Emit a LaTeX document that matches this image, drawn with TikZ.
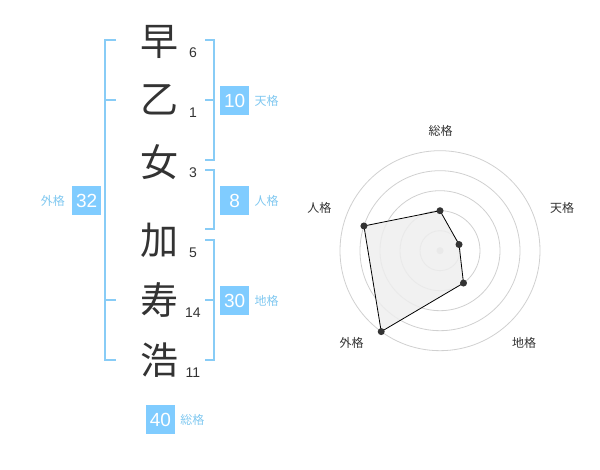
\documentclass[tikz,border=0pt]{standalone}
\usepackage{fontspec}
\setmainfont{Liberation Sans}
\newfontfamily\cjk{Noto Sans CJK JP}
\usepackage{xcolor}
\usepackage{tikz}
\usetikzlibrary{positioning,calc}
\definecolor{skyblue}{RGB}{128,204,255}
\definecolor{linkblue}{RGB}{136,204,246}
\definecolor{labelblue}{RGB}{128,200,240}
\definecolor{inkgray}{RGB}{51,51,51}
\definecolor{ringgray}{RGB}{208,208,208}
\definecolor{areagray}{RGB}{238,238,238}

\begin{document}
\begin{tikzpicture}[x=1pt,y=1pt,
  kanji/.style={font=\cjk\fontsize{38}{38}\selectfont,text=inkgray,inner sep=0pt},
  strokes/.style={font=\fontsize{14}{14}\selectfont,text=inkgray,inner sep=0pt},
  score/.style={fill=skyblue,minimum size=29pt,inner sep=0pt,font=\fontsize{19}{19}\selectfont,text=white},
  kaku/.style={font=\cjk\fontsize{12}{12}\selectfont,text=labelblue,inner sep=0pt},
  brk/.style={linkblue,line width=2pt},
  ring/.style={ringgray,line width=0.8pt},
  axis/.style={font=\cjk\fontsize{12}{12}\selectfont,text=inkgray,inner sep=0pt},
  dot/.style={circle,fill=inkgray,inner sep=0pt,minimum size=7pt}
]
  \useasboundingbox (0,0) rectangle (600,470);

  % name
  \node[kanji] (c1) at (159,428) {早};
  \node[kanji] (c2) at (159,370) {乙};
  \node[kanji] (c3) at (159,308) {女};
  \node[kanji] (c4) at (159,230) {加};
  \node[kanji] (c5) at (159,170) {寿};
  \node[kanji] (c6) at (159,110) {浩};
  \node[strokes] (s1) at (193,417) {6};
  \node[strokes] (s2) at (193,357) {1};
  \node[strokes] (s3) at (193,297) {3};
  \node[strokes] (s4) at (193,217) {5};
  \node[strokes] (s5) at (193,157) {14};
  \node[strokes] (s6) at (193,97)  {11};

  % brackets
  \draw[brk] (116,430) -- (105,430) -- (105,110) -- (116,110);
  \draw[brk] (105,370) -- (116,370);
  \draw[brk] (105,170) -- (116,170);
  \draw[brk] (205,430) -- (214,430) -- (214,310) -- (205,310);
  \draw[brk] (205,370) -- (214,370);
  \draw[brk] (205,300) -- (214,300) -- (214,241) -- (205,241);
  \draw[brk] (205,230) -- (214,230) -- (214,110) -- (205,110);
  \draw[brk] (205,170) -- (214,170);

  % scores
  \node[score] (ten) at (234.7,369.5) {10};
  \node[kaku,right=5pt of ten] (tenl) {天格};
  \node[score] (jin) at (234.7,269.5) {8};
  \node[kaku,right=5pt of jin] (jinl) {人格};
  \node[score] (chi) at (234.7,169.5) {30};
  \node[kaku,right=5pt of chi] (chil) {地格};
  \node[score] (gai) at (86.7,269.5) {32};
  \node[kaku,left=7pt of gai] (gail) {外格};
  \node[score] (sou) at (160.5,50.5) {40};
  \node[kaku,right=5pt of sou] (soul) {総格};

  % radar
  \coordinate (ctr) at (440,219.3);
  \foreach \r in {20,40,60,80,100}
    \draw[ring] (ctr) circle[radius=\r pt];
  \fill[ringgray] (ctr) circle[radius=3.5pt];
  \node[axis] (a1) at (440.7,339.3) {総格};
  \node[axis] (a2) at (562,262)     {天格};
  \node[axis] (a3) at (524,127.3)   {地格};
  \node[axis] (a4) at (351.7,127.3) {外格};
  \node[axis] (a5) at (319.3,262)   {人格};
  \coordinate (p1) at ($(ctr)+(90:40)$);
  \coordinate (p2) at ($(ctr)+(18:20)$);
  \coordinate (p3) at ($(ctr)+(-54:40)$);
  \coordinate (p4) at ($(ctr)+(-126:100)$);
  \coordinate (p5) at ($(ctr)+(162:80)$);
  \filldraw[fill=areagray,fill opacity=0.85,draw=black,line width=0.8pt]
    (p1) -- (p2) -- (p3) -- (p4) -- (p5) -- cycle;
  \foreach \p in {p1,p2,p3,p4,p5}
    \node[dot] at (\p) {};
\end{tikzpicture}
\end{document}
